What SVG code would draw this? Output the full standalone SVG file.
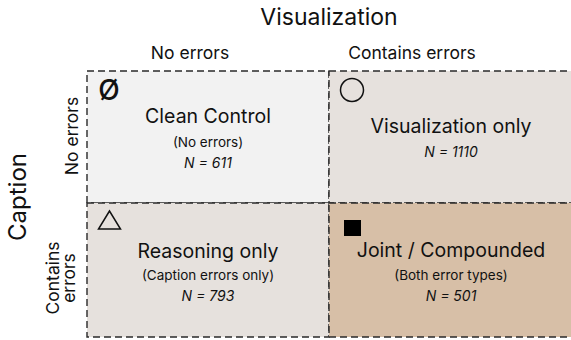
<svg xmlns="http://www.w3.org/2000/svg" width="571" height="340" viewBox="0 0 571 340">
<style>
text{font-family:Inter,"Liberation Sans",sans-serif;fill:#111;text-anchor:middle}
.cell{stroke:#2a2a2a;stroke-width:1.4;stroke-dasharray:7 4}
.t{font-size:19.5px}
.s{font-size:13.5px}
.n{font-size:14px;font-style:italic}
.h{font-size:17.5px}
.sym{fill:none;stroke:#111;stroke-width:1.5}
</style>
<rect width="571" height="340" fill="#fff"/>
<g id="labels">
<text x="329" y="25" style="font-size:23px">Visualization</text>
<text x="190" y="59" class="h">No errors</text>
<text x="412" y="59" class="h">Contains errors</text>
<text transform="translate(26,197) rotate(-90)" style="font-size:24px">Caption</text>
<text transform="translate(78,136) rotate(-90)" class="h">No errors</text>
<text transform="translate(59,278) rotate(-90)" class="h">Contains</text>
<text transform="translate(75,278) rotate(-90)" class="h">errors</text>
</g>
<g id="clean">
<rect class="cell" x="87" y="71" width="242" height="132" fill="#f2f2f2"/>
<text x="109" y="100" style="font-size:28px;font-weight:500">Ø</text>
<text x="208" y="123" class="t">Clean Control</text>
<text x="208" y="147" class="s">(No errors)</text>
<text x="208" y="168" class="n">N = 611</text>
</g>
<g id="viz">
<rect class="cell" x="329" y="71" width="250" height="132" fill="#e6e1dd"/>
<circle class="sym" cx="352" cy="90" r="11.5"/>
<text x="451" y="133" class="t">Visualization only</text>
<text x="451" y="157" class="n">N = 1110</text>
</g>
<g id="reasoning">
<rect class="cell" x="87" y="203" width="242" height="134" fill="#e6e1dd"/>
<polygon class="sym" points="109.5,211 98.5,229 120.5,229"/>
<text x="208" y="258" class="t">Reasoning only</text>
<text x="208" y="280" class="s">(Caption errors only)</text>
<text x="208" y="301" class="n">N = 793</text>
</g>
<g id="joint">
<rect class="cell" x="329" y="203" width="250" height="134" fill="#d7bfa7"/>
<rect x="344" y="220" width="17" height="16" fill="#000"/>
<text x="451" y="257" class="t">Joint / Compounded</text>
<text x="451" y="280" class="s">(Both error types)</text>
<text x="451" y="301" class="n">N = 501</text>
</g>
<g id="connectors"></g>
</svg>
